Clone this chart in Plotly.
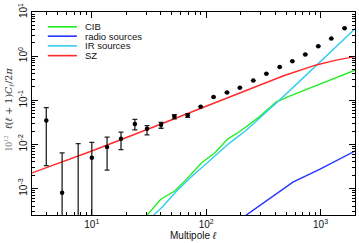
import plotly.graph_objects as go

# ---------------- data ----------------
ell_data = [4.0, 5.5, 7.6, 10.0, 13.6, 18.0, 23.8, 30.4, 40.3, 52.7, 68.9, 89.5,
            116, 152, 197, 258, 336, 439, 566, 735, 955, 1240, 1620]
cl_data = [0.035, 8.0e-4, 1.0e-4, 0.0050, 0.0087, 0.0134, 0.029, 0.0225, 0.0277,
           0.0426, 0.0456, 0.0714, 0.118, 0.150, 0.191, 0.279, 0.40, 0.566, 0.77,
           1.09, 1.68, 2.5, 4.3]
cl_upper = [0.068, 0.0064, 0.0104, 0.0111, 0.0146, 0.019, 0.037, 0.0267, 0.0317,
            0.047, 0.050, None, None, None, None, None, None, None, None, None,
            None, None, None]
cl_lower = [0.0033, 0.0, 0.0, 0.0, 0.0026, 0.0076, 0.0214, 0.0165, 0.0232,
            0.038, 0.041, None, None, None, None, None, None, None, None, None,
            None, None, None]

cib_ell = [25, 30.1, 40.1, 53.1, 67.1, 90.8, 118.6, 154.9, 196.3, 293, 410, 536,
           724, 946, 1279, 2000]
cib_cl = [1.38e-4, 2.41e-4, 5.71e-4, 8.79e-4, 1.61e-3, 3.80e-3, 6.37e-3, 1.34e-2,
          1.96e-2, 4.26e-2, 9.25e-2, 0.124, 0.169, 0.220, 0.309, 0.479]

radio_ell = [150, 220, 573, 980, 2000]
radio_cl = [1.20e-4, 2.41e-4, 1.40e-3, 2.70e-3, 7.08e-3]

ir_ell = [25, 33.2, 42.0, 53.1, 71.8, 93.8, 122.7, 160, 224, 324, 424, 614, 2000]
ir_cl = [1.12e-4, 2.19e-4, 3.98e-4, 7.94e-4, 1.70e-3, 3.16e-3, 5.89e-3, 1.07e-2,
         2.09e-2, 4.90e-2, 9.33e-2, 0.229, 4.17]

sz_ell = [3, 10, 32, 60, 123, 293, 469, 916, 1371, 2000]
sz_cl = [0.00226, 0.00708, 0.0229, 0.0437, 0.0912, 0.224, 0.355, 0.631, 0.813, 0.977]

series_names = ["CIB", "radio sources", "IR sources", "SZ"]
series_colors = ["#22ee22", "#2233ff", "#33ccee", "#ff2a2a"]
series_x = [cib_ell, radio_ell, ir_ell, sz_ell]
series_y = [cib_cl, radio_cl, ir_cl, sz_cl]

x_tickvals = [10, 100, 1000]
x_ticktext = ["10<sup>1</sup>", "10<sup>2</sup>", "10<sup>3</sup>"]
y_tickvals = [1e-3, 1e-2, 1e-1, 1, 10]
y_ticktext = ["10<sup>-3</sup>", "10<sup>-2</sup>", "10<sup>-1</sup>",
              "10<sup>0</sup>", "10<sup>1</sup>"]

# ---------------- figure ----------------
fig = go.Figure()

for name, col, xs, ys in zip(series_names, series_colors, series_x, series_y):
    fig.add_trace(go.Scatter(x=xs, y=ys, mode="lines", name=name,
                             line=dict(color=col, width=1.4), showlegend=False))

err_plus = [None if u is None else u - v for u, v in zip(cl_upper, cl_data)]
err_minus = [None if l is None else v - l for l, v in zip(cl_lower, cl_data)]

fig.add_trace(go.Scatter(
    x=ell_data, y=cl_data, mode="markers", showlegend=False,
    marker=dict(color="black", size=4.5),
    error_y=dict(type="data", symmetric=False, array=err_plus,
                 arrayminus=err_minus, color="#222222", thickness=1.3, width=2.5),
))

# ---------------- custom legend ----------------
leg_x0, leg_x1, leg_tx = 0.049, 0.139, 0.157
leg_rows = [0.927, 0.881, 0.833, 0.785]
for name, col, yy in zip(series_names, series_colors, leg_rows):
    fig.add_shape(type="line", xref="paper", yref="paper", x0=leg_x0, x1=leg_x1,
                  y0=yy, y1=yy, line=dict(color=col, width=1.6))
    fig.add_annotation(xref="paper", yref="paper", x=leg_tx, y=yy, text=name,
                       showarrow=False, xanchor="left", yanchor="middle",
                       font=dict(family="Liberation Sans, Arial", size=9.5, color="#111111"))

# axis titles
fig.add_annotation(
    xref="paper", yref="paper", x=-0.071, y=0.52, textangle=-90, showarrow=False,
    xanchor="center", yanchor="middle",
    text=("<span style='color:#888888;font-family:Liberation Serif'>10<sup>12</sup></span>"
          "  <i>ℓ</i>(<i>ℓ</i> + 1)<i>C<sub>ℓ</sub></i>/2<i>π</i>"),
    font=dict(family="DejaVu Serif", size=9.5, color="#333333"),
)
fig.add_annotation(
    xref="paper", yref="paper", x=0.5, y=-0.102, showarrow=False,
    xanchor="center", yanchor="middle", text="Multipole <i>ℓ</i>",
    font=dict(family="Liberation Sans, Arial", size=10, color="#111111"),
)

x_minor = [k * 10 ** p for p in range(0, 4) for k in range(2, 10) if 3 <= k * 10 ** p <= 2000]
y_minor = [k * 10.0 ** p for p in range(-4, 1) for k in range(2, 10) if 2.5e-4 <= k * 10.0 ** p <= 10]

axis_common = dict(
    showgrid=False, zeroline=False, showline=True, linecolor="black", linewidth=1,
    mirror="ticks", ticks="inside", ticklen=6, tickwidth=1, tickcolor="black",
    tickfont=dict(family="Liberation Sans, Arial", size=10, color="#111111"),
)

fig.update_xaxes(type="log", range=[0.4771, 3.301], tickmode="array",
                 tickvals=x_tickvals, ticktext=x_ticktext,
                 minor=dict(tickmode="array", tickvals=x_minor, ticks="inside",
                            ticklen=3, tickcolor="black", showgrid=False),
                 **axis_common)
fig.update_yaxes(type="log", range=[-3.6, 1.0], tickmode="array",
                 tickvals=y_tickvals, ticktext=y_ticktext, tickangle=-90,
                 minor=dict(tickmode="array", tickvals=y_minor, ticks="inside",
                            ticklen=3, tickcolor="black", showgrid=False),
                 **axis_common)

fig.update_layout(
    width=359, height=243, autosize=False,
    margin=dict(l=32, r=3, t=10, b=28),
    paper_bgcolor="white", plot_bgcolor="white",
    showlegend=False,
)

fig.write_html("out.html", config={"displayModeBar": False},
               post_script="document.body.style.margin='0';document.body.style.overflow='hidden';")
